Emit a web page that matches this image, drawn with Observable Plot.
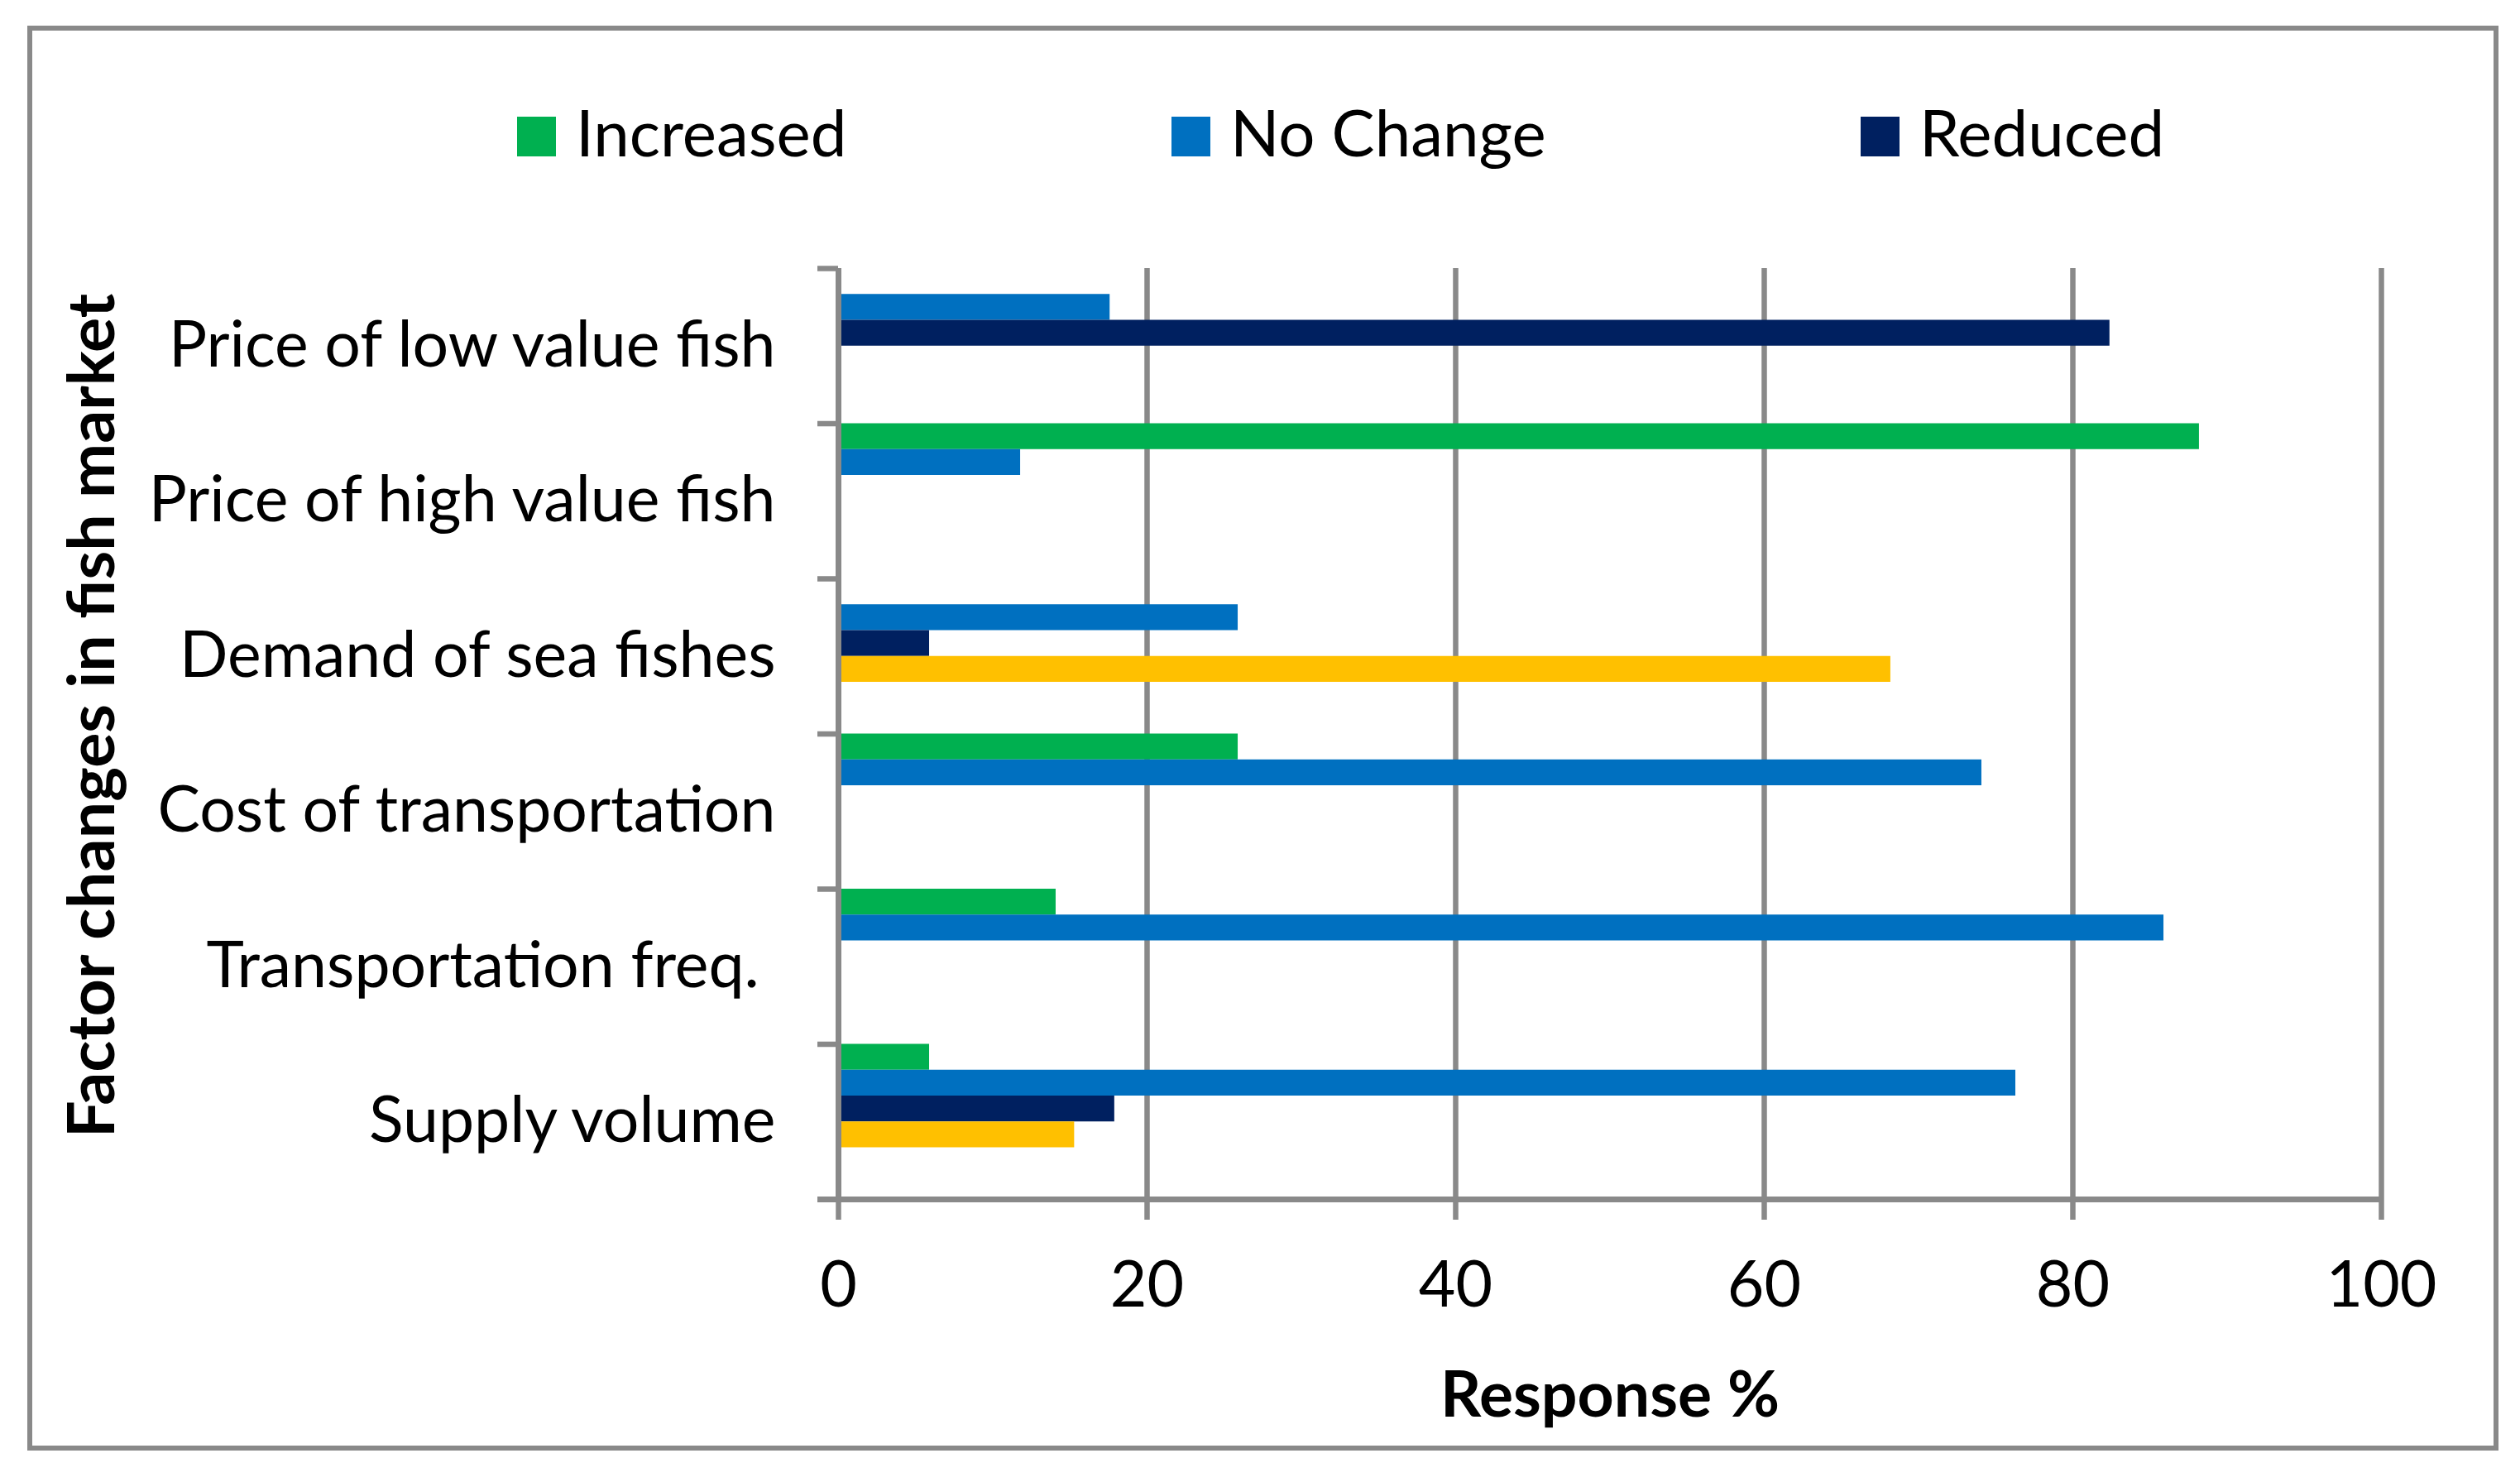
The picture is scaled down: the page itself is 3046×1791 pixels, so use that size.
<!DOCTYPE html>
<html>
<head>
<meta charset="utf-8">
<script src="https://cdn.jsdelivr.net/npm/d3@7"></script>
<script src="https://cdn.jsdelivr.net/npm/@observablehq/plot@0.6"></script>
<style>
  html, body { margin: 0; padding: 0; background: #fff; }
  body { width: 3046px; height: 1791px; position: relative; overflow: hidden; font-family: Lato, sans-serif; }
  #frame { position: absolute; left: 33px; top: 31px; width: 2987px; height: 1722px; border: 6px solid #898989; box-sizing: border-box; background: #fff; }
  #legend { position: relative; height: 223px; }
  .item { position: absolute; top: 81px; display: flex; align-items: baseline; font-size: 78px; line-height: 83px; color: #000; white-space: nowrap; }
  .sw { display: inline-block; width: 47px; height: 48px; margin-right: 24px; }
  #chart svg { display: block; }
</style>
</head>
<body>
<div id="frame">
  <div id="legend"></div>
  <div id="chart"></div>
</div>
<script>
// ---- data ----
const categories = [
  "Price of low value fish",
  "Price of high value fish",
  "Demand of sea fishes",
  "Cost of transportation",
  "Transportation freq.\u00a0",
  "Supply volume"
];
const seriesNames = ["Increased", "No Change", "Reduced", "Series4"];
const seriesColors = ["#00B050", "#0070C0", "#002060", "#FFC000"];
const legendNames = ["Increased", "No Change", "Reduced"];

const increased = [null, 88.2, null, 25.9, 14.1, 5.9];
const noChange  = [17.6, 11.8, 25.9, 74.1, 85.9, 76.3];
const reduced   = [82.4, null, 5.9, null, null, 17.9];
const series4   = [null, null, 68.2, null, null, 15.3];

const xTicks = [0, 20, 40, 60, 80, 100];
const xTitle = "Response %";
const yTitle = "Factor changes in fish market";

// ---- table built from the arrays ----
const seriesValues = [increased, noChange, reduced, series4];
const slots = 6; // bar slots per category band (4 used + 2 empty, as in the original layout)
const rows = [];
categories.forEach((c, ci) => {
  seriesValues.forEach((vals, si) => {
    const v = vals[ci];
    if (v != null) rows.push({category: c, ci, series: seriesNames[si], si, value: v});
  });
});

const grid = "#898989";
const fs = 77;

// ---- legend ----
const legendLeft = [586, 1377, 2210];
const legend = document.getElementById("legend");
legendNames.forEach((n, i) => {
  const it = document.createElement("div");
  it.className = "item";
  it.style.left = legendLeft[i] + "px";
  const sw = document.createElement("span");
  sw.className = "sw";
  sw.style.background = seriesColors[seriesNames.indexOf(n)];
  it.appendChild(sw);
  it.appendChild(document.createTextNode(n));
  legend.appendChild(it);
});

// ---- chart ----
const boundaries = d3.range(0, categories.length + 1);
const centers = categories.map((c, i) => i + 0.5);

const chart = Plot.plot({
  width: 2975,
  height: 1487,
  marginLeft: 974,
  marginRight: 136,
  marginTop: 64,
  marginBottom: 298,
  style: {fontFamily: "Lato, sans-serif", fontSize: fs + "px", color: "#000", background: "transparent", overflow: "visible"},
  x: {domain: [0, 100], label: null},
  y: {domain: [0, categories.length], reverse: true, label: null},
  color: {domain: seriesNames, range: seriesColors},
  marks: [
    Plot.ruleX(xTicks, {stroke: grid, strokeWidth: 6.5}),
    Plot.rectX(rows, {
      x1: 0,
      x2: "value",
      y1: d => d.ci + d.si / slots,
      y2: d => d.ci + (d.si + 1) / slots,
      fill: "series"
    }),
    Plot.ruleX([0], {stroke: grid, strokeWidth: 7}),
    Plot.ruleY([categories.length], {stroke: grid, strokeWidth: 7, insetLeft: -25}),
    Plot.axisY(boundaries, {tickSize: 25, tickFormat: () => "", stroke: grid, strokeWidth: 6.5, label: null}),
    Plot.axisY(centers, {tickSize: 0, tickPadding: 76, tickFormat: d => categories[Math.floor(d)], fontSize: fs, fill: "#000", label: null}),
    Plot.axisX(xTicks, {tickSize: 25, tickPadding: 50, stroke: grid, strokeWidth: 6.5, fontSize: fs, fill: "#000", label: null}),
    Plot.text([xTitle], {frameAnchor: "bottom", textAnchor: "middle", lineAnchor: "middle", dy: 238, fontWeight: "bold", fontSize: fs, fill: "#000"}),
    Plot.text([yTitle], {frameAnchor: "left", textAnchor: "middle", lineAnchor: "middle", dx: -901, dy: -22, rotate: -90, fontWeight: "bold", fontSize: 79, fill: "#000"})
  ]
});
document.getElementById("chart").appendChild(chart);
</script>
</body>
</html>
